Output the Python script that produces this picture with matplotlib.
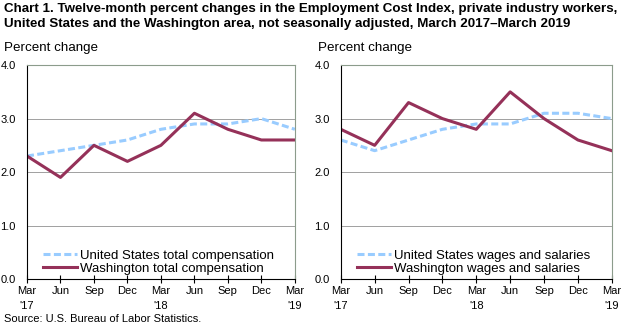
import numpy as np
import matplotlib as mpl
import matplotlib.pyplot as plt

mpl.rcParams['font.family'] = ['Liberation Sans', 'DejaVu Sans']

# quarters, March 2017 - March 2019
quarters = ["Mar\n'17", 'Jun', 'Sep', 'Dec', "Mar\n'18", 'Jun', 'Sep', 'Dec', "Mar\n'19"]

us_total = [2.3, 2.4, 2.5, 2.6, 2.8, 2.9, 2.9, 3.0, 2.8]
wa_total = [2.3, 1.9, 2.5, 2.2, 2.5, 3.1, 2.8, 2.6, 2.6]

us_wages = [2.6, 2.4, 2.6, 2.8, 2.9, 2.9, 3.1, 3.1, 3.0]
wa_wages = [2.8, 2.5, 3.3, 3.0, 2.8, 3.5, 3.0, 2.6, 2.4]

us_color = '#99ccff'
wa_color = '#953159'
frame_color = '#8c9c8c'

fig = plt.figure(figsize=(6.23, 3.27), dpi=100)

fig.text(0.006, 0.99,
         'Chart 1. Twelve-month percent changes in the Employment Cost Index, private industry workers,\n'
         'United States and the Washington area, not seasonally adjusted, March 2017\u2013March 2019',
         ha='left', va='top', fontsize=9.6, fontweight='bold', linespacing=1.3)
fig.text(0.006, 0.008, 'Source: U.S. Bureau of Labor Statistics.', fontsize=8, ha='left', va='bottom')


def panel(rect, us, wa, us_label, wa_label):
    ax = fig.add_axes(rect)
    x = np.arange(len(quarters))
    ax.plot(x, us, color=us_color, lw=2.2, ls=(0, (2.3, 1.1)), label=us_label)
    ax.plot(x, wa, color=wa_color, lw=2.2, label=wa_label)
    ax.set_xlim(0, len(quarters) - 1)
    ax.set_ylim(0, 4)
    ax.set_yticks([0, 1, 2, 3, 4])
    ax.set_yticklabels(['%.1f' % v for v in [0, 1, 2, 3, 4]], fontsize=8)
    ax.set_xticks(x)
    ax.set_xticklabels(quarters, fontsize=8, linespacing=1.65)
    ax.tick_params(axis='y', length=0, pad=8)
    ax.tick_params(axis='x', direction='inout', length=6, width=0.8, pad=2)
    ax.grid(axis='y', color='#a0a0a0', lw=0.7)
    ax.set_axisbelow(True)
    ax.spines['top'].set_color(frame_color)
    ax.spines['right'].set_color(frame_color)
    ax.spines['left'].set_color('black')
    ax.spines['bottom'].set_color('black')
    for s in ax.spines.values():
        s.set_linewidth(0.8)
    ax.legend(loc='lower left', bbox_to_anchor=(0.02, -0.03), frameon=False, fontsize=9.5,
              handlelength=2.6, handletextpad=0.2, labelspacing=0.05, borderpad=0.3)
    fig.text(rect[0] - 0.037, rect[1] + rect[3] + 0.035, 'Percent change', fontsize=9.6,
             ha='left', va='bottom')
    return ax


panel([0.0433, 0.1468, 0.430, 0.654], us_total, wa_total,
      'United States total compensation', 'Washington total compensation')
panel([0.547, 0.1468, 0.435, 0.654], us_wages, wa_wages,
      'United States wages and salaries', 'Washington wages and salaries')

fig.savefig('out.png', dpi=100)
